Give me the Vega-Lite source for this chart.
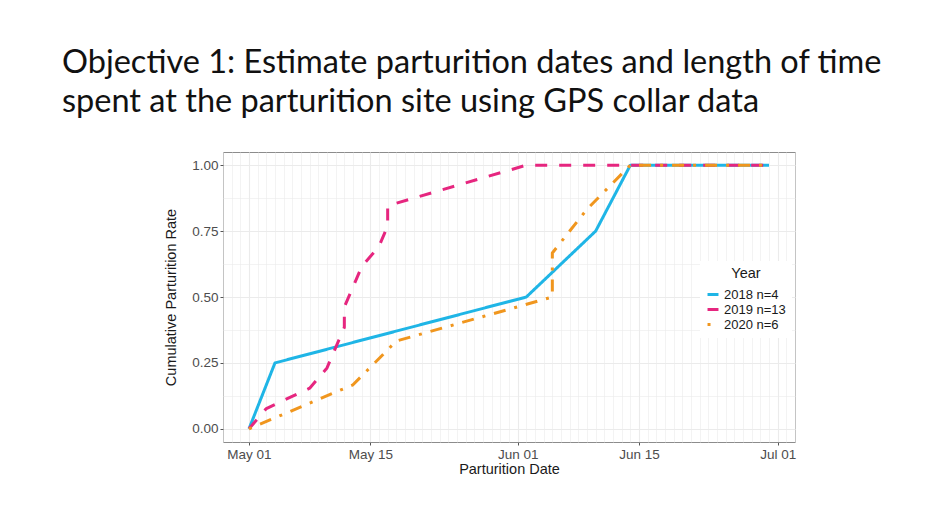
{
  "$schema": "https://vega.github.io/schema/vega-lite/v6.json",
  "width": 572,
  "height": 290,
  "padding": {"left": 62, "top": 46, "right": 10, "bottom": 10},
  "background": "white",
  "title": {
    "text": ["Objective 1: Estimate parturition dates and length of time", "spent at the parturition site using GPS collar data"],
    "anchor": "start",
    "frame": "group",
    "dx": -161,
    "font": "Lato",
    "fontSize": 32.5,
    "fontWeight": "normal",
    "color": "#111111",
    "lineHeight": 39,
    "offset": 34
  },
  "config": {
    "view": {"stroke": "#8c8c8c", "strokeWidth": 1},
    "font": "Liberation Sans",
    "axis": {
      "domain": false,
      "gridColor": "#EBEBEB",
      "tickColor": "#555555",
      "tickSize": 3,
      "labelColor": "#4D4D4D",
      "labelFont": "Liberation Sans",
      "labelFontSize": 13.5,
      "titleFont": "Liberation Sans",
      "titleFontSize": 14.5,
      "titleFontWeight": "normal",
      "titleColor": "#1a1a1a"
    }
  },
  "data": {
    "values": [
      {"group": "2018 n=4", "date": "2019-05-01", "rate": 0},
      {"group": "2018 n=4", "date": "2019-05-04", "rate": 0.25},
      {"group": "2018 n=4", "date": "2019-06-02", "rate": 0.5},
      {"group": "2018 n=4", "date": "2019-06-10", "rate": 0.75},
      {"group": "2018 n=4", "date": "2019-06-14", "rate": 1},
      {"group": "2018 n=4", "date": "2019-06-30", "rate": 1},
      {"group": "2019 n=13", "date": "2019-05-01", "rate": 0},
      {"group": "2019 n=13", "date": "2019-05-03", "rate": 0.077},
      {"group": "2019 n=13", "date": "2019-05-08", "rate": 0.154},
      {"group": "2019 n=13", "date": "2019-05-10", "rate": 0.231},
      {"group": "2019 n=13", "date": "2019-05-11", "rate": 0.308},
      {"group": "2019 n=13", "date": "2019-05-12", "rate": 0.385},
      {"group": "2019 n=13", "date": "2019-05-12", "rate": 0.462},
      {"group": "2019 n=13", "date": "2019-05-13", "rate": 0.538},
      {"group": "2019 n=13", "date": "2019-05-14", "rate": 0.615},
      {"group": "2019 n=13", "date": "2019-05-16", "rate": 0.692},
      {"group": "2019 n=13", "date": "2019-05-17", "rate": 0.769},
      {"group": "2019 n=13", "date": "2019-05-17", "rate": 0.846},
      {"group": "2019 n=13", "date": "2019-05-25", "rate": 0.923},
      {"group": "2019 n=13", "date": "2019-06-02", "rate": 1},
      {"group": "2019 n=13", "date": "2019-06-30", "rate": 1},
      {"group": "2020 n=6", "date": "2019-05-01", "rate": 0},
      {"group": "2020 n=6", "date": "2019-05-13", "rate": 0.167},
      {"group": "2020 n=6", "date": "2019-05-18", "rate": 0.333},
      {"group": "2020 n=6", "date": "2019-06-05", "rate": 0.5},
      {"group": "2020 n=6", "date": "2019-06-05", "rate": 0.667},
      {"group": "2020 n=6", "date": "2019-06-09", "rate": 0.833},
      {"group": "2020 n=6", "date": "2019-06-14", "rate": 1},
      {"group": "2020 n=6", "date": "2019-06-30", "rate": 1}
    ]
  },
  "mark": {"type": "line", "strokeWidth": 3, "strokeCap": "butt", "strokeJoin": "round"},
  "encoding": {
    "x": {
      "field": "date",
      "type": "temporal",
      "title": "Parturition Date",
      "scale": {
        "type": "utc",
        "nice": false,
        "domain": [
          {"year": 2019, "month": 4, "date": 28, "utc": true},
          {"year": 2019, "month": 7, "date": 3, "utc": true}
        ]
      },
      "axis": {
        "tickCount": {"interval": "day", "step": 1},
        "labelExpr": "(utcdate(datum.value) == 1 || utcdate(datum.value) == 15) ? utcFormat(datum.value, '%b %d') : ''",
        "labelOverlap": false,
        "labelFlush": false,
        "labelPadding": 2,
        "titlePadding": 2,
        "tickOpacity": {"condition": {"test": "utcdate(datum.value) == 1 || utcdate(datum.value) == 15", "value": 1}, "value": 0},
        "gridWidth": {"condition": {"test": "utcdate(datum.value) == 1 || utcdate(datum.value) == 15", "value": 1.1}, "value": 0.6}
      }
    },
    "y": {
      "field": "rate",
      "type": "quantitative",
      "title": "Cumulative Parturition Rate",
      "scale": {"domain": [-0.05, 1.05], "nice": false, "zero": false},
      "axis": {
        "values": [0, 0.125, 0.25, 0.375, 0.5, 0.625, 0.75, 0.875, 1],
        "labelExpr": "(datum.value * 4 == round(datum.value * 4)) ? format(datum.value, '.2f') : ''",
        "labelPadding": 2,
        "titlePadding": 13,
        "tickOpacity": {"condition": {"test": "datum.value * 4 == round(datum.value * 4)", "value": 1}, "value": 0},
        "gridWidth": {"condition": {"test": "datum.value * 4 == round(datum.value * 4)", "value": 1.1}, "value": 0.6}
      }
    },
    "color": {
      "field": "group",
      "type": "nominal",
      "title": "Year",
      "scale": {"domain": ["2018 n=4", "2019 n=13", "2020 n=6"], "range": ["#1FB5E6", "#E6267F", "#F0961E"]},
      "legend": {
        "orient": "none",
        "legendX": 477,
        "legendY": 109,
        "fillColor": "white",
        "padding": 6,
        "titleAnchor": "middle",
        "titleFontSize": 14.5,
        "titleFontWeight": "normal",
        "titleColor": "#1a1a1a",
        "titleFont": "Liberation Sans",
        "titlePadding": 6,
        "labelFontSize": 13,
        "labelColor": "#1a1a1a",
        "labelFont": "Liberation Sans",
        "symbolType": "stroke",
        "symbolStrokeWidth": 3,
        "symbolSize": 120,
        "rowPadding": 1
      }
    },
    "strokeDash": {
      "field": "group",
      "type": "nominal",
      "title": "Year",
      "scale": {"domain": ["2018 n=4", "2019 n=13", "2020 n=6"], "range": [[1, 0], [12, 12], [3, 9, 12, 9]]}
    }
  }
}
